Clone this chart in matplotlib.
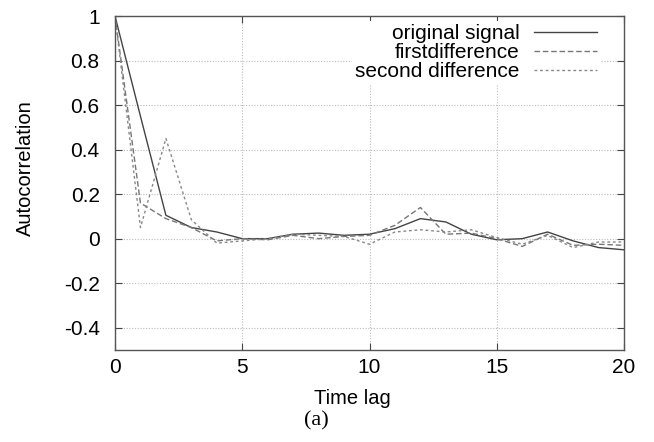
import matplotlib
matplotlib.use("Agg")
import matplotlib.pyplot as plt

lags = list(range(21))
original = [1.0, 0.55, 0.105, 0.05, 0.03, 0.0, 0.0, 0.02, 0.025, 0.015, 0.02,
            0.045, 0.09, 0.075, 0.02, -0.005, 0.0, 0.03, -0.01, -0.04, -0.05]
first_diff = [1.0, 0.16, 0.09, 0.05, -0.01, 0.0, -0.005, 0.015, 0.0, 0.01, 0.015,
              0.06, 0.14, 0.02, 0.025, 0.0, -0.035, 0.02, -0.03, -0.025, -0.03]
second_diff = [1.0, 0.05, 0.45, 0.085, -0.02, -0.01, 0.0, 0.02, 0.015, 0.01, -0.025,
               0.03, 0.04, 0.03, 0.04, 0.005, -0.025, 0.015, -0.04, -0.015, -0.015]
labels = ["original signal", "firstdifference", "second difference"]
xticks = [0, 5, 10, 15, 20]
yticks = [-0.4, -0.2, 0, 0.2, 0.4, 0.6, 0.8, 1]

plt.rcParams['font.family'] = ['Liberation Sans', 'DejaVu Sans']

W, H = 654, 442
fig = plt.figure(figsize=(W/100, H/100), dpi=100)
ax = fig.add_axes([115/W, 1 - 350/H, (624-115)/W, (350-16)/H])

ax.plot(lags, original, color='#444444', lw=1.0, ls='-', label=labels[0])
ax.plot(lags, first_diff, color='#777777', lw=1.0, ls=(0, (4, 2)), label=labels[1])
ax.plot(lags, second_diff, color='#888888', lw=1.0, ls=(0, (2, 2)), label=labels[2])

ax.set_xlim(0, 20)
ax.set_ylim(-0.5, 1)
ax.set_xticks(xticks)
ax.set_xticklabels([str(t) for t in xticks])
ax.set_yticks(yticks)
ax.set_yticklabels(['-0.4', '-0.2', '0', '0.2', '0.4', '0.6', '0.8', '1'])
ax.grid(True, color='#bbbbbb', ls=(0, (1, 1.5)), lw=0.8)
ax.set_axisbelow(True)
ax.tick_params(direction='in', top=True, right=True, length=5, labelsize=15,
               color='#444444')
ax.tick_params(axis='y', pad=11)
ax.tick_params(axis='x', pad=6)
for s in ax.spines.values():
    s.set_color('#555555')
    s.set_linewidth(1.0)

fig.text(352/W, 1 - 398/H, 'Time lag', fontsize=14.5, ha='center', va='center')
fig.text(25/W, 1 - 168/H, 'Autocorrelation', fontsize=14.5, rotation=90,
         ha='center', va='center')

leg = ax.legend(loc='upper right', markerfirst=False, frameon=True, fontsize=15,
                handlelength=3.0, handletextpad=0.7, borderpad=0.15, labelspacing=0.0,
                bbox_to_anchor=(0.953, 0.985), borderaxespad=0.0)
leg.get_frame().set_facecolor('white')
leg.get_frame().set_edgecolor('none')
leg.get_frame().set_alpha(1.0)
for t in leg.get_texts():
    t.set_ha('right')
leg._legend_box.align = 'right'

fig.text(316/W, 1 - 421/H, '(a)', fontsize=16, family='Liberation Serif',
         ha='center', va='center')

fig.savefig('out.png', dpi=100, facecolor='white')
